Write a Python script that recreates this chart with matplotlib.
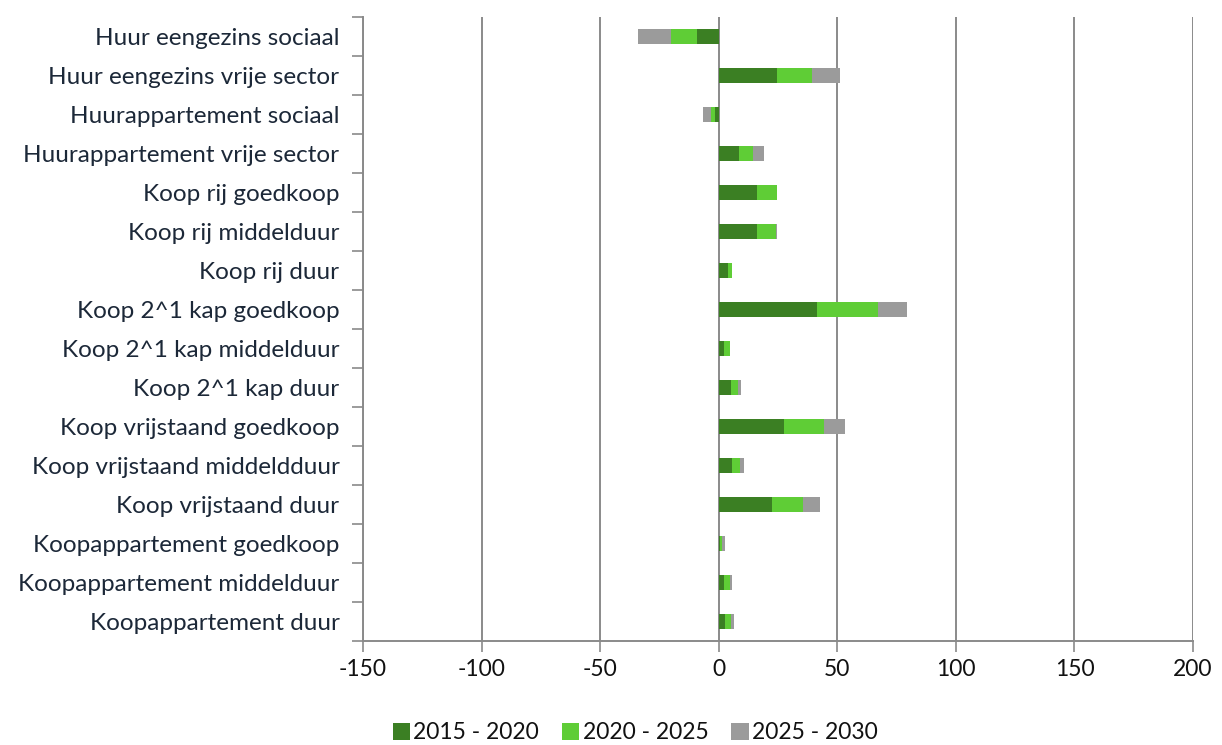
import matplotlib
matplotlib.use("Agg")
import matplotlib.pyplot as plt
from matplotlib.ticker import FixedLocator
import numpy as np

categories = [
    "Huur eengezins sociaal",
    "Huur eengezins vrije sector",
    "Huurappartement sociaal",
    "Huurappartement vrije sector",
    "Koop rij goedkoop",
    "Koop rij middelduur",
    "Koop rij duur",
    "Koop 2^1 kap goedkoop",
    "Koop 2^1 kap middelduur",
    "Koop 2^1 kap duur",
    "Koop vrijstaand goedkoop",
    "Koop vrijstaand middeldduur",
    "Koop vrijstaand duur",
    "Koopappartement goedkoop",
    "Koopappartement middelduur",
    "Koopappartement duur",
]

series_labels = ["2015 - 2020", "2020 - 2025", "2025 - 2030"]
s2015_2020 = [-9, 24.4, -1.4, 8.4, 16, 16, 3.8, 41.6, 2.4, 5.2, 27.7, 5.6, 22.3, 0.7, 2.4, 2.8]
s2020_2025 = [-11, 15, -1.8, 5.9, 8.7, 8.1, 1.8, 25.4, 2.5, 2.8, 16.6, 3.2, 13.3, 0.7, 2.2, 2.5]
s2025_2030 = [-14, 11.9, -3.5, 4.6, 0, 0.6, 0, 12.2, 0, 1.4, 8.8, 1.7, 7.0, 1.1, 1.0, 1.0]

x_ticks = [-150, -100, -50, 0, 50, 100, 150, 200]
colors = ["#3b7f23", "#5fcd36", "#9b9b9b"]

plt.rcParams["font.family"] = ["Lato", "DejaVu Sans"]

fig = plt.figure(figsize=(12.22, 7.45), dpi=100)
ax = fig.add_axes([363 / 1222, 1 - 641 / 745, (1193 - 363) / 1222, (641 - 17) / 745])

n = len(categories)
y = np.arange(n)
series = [s2015_2020, s2020_2025, s2025_2030]
pos_left = np.zeros(n)
neg_left = np.zeros(n)
for vals, col, lab in zip(series, colors, series_labels):
    v = np.array(vals, dtype=float)
    left = np.where(v >= 0, pos_left, neg_left)
    ax.barh(y, v, left=left, height=0.37, color=col, label=lab, zorder=3)
    pos_left = pos_left + np.where(v >= 0, v, 0)
    neg_left = neg_left + np.where(v < 0, v, 0)

ax.set_xlim(-150, 200)
ax.set_ylim(n - 0.5, -0.5)
ax.set_xticks(x_ticks)
ax.set_xticklabels([str(t) for t in x_ticks])
ax.set_yticks(y)
ax.set_yticklabels(categories)
ax.yaxis.set_minor_locator(FixedLocator(np.arange(-0.5, n, 1.0)))

ax.grid(axis="x", color="#8a8a8a", linewidth=1.4, zorder=0)
for side in ["top", "right"]:
    ax.spines[side].set_visible(False)
for side in ["left", "bottom"]:
    ax.spines[side].set_color("#8a8a8a")
    ax.spines[side].set_linewidth(1.4)

ax.tick_params(axis="y", which="major", length=0, pad=17, labelsize=17.5, labelcolor="#1c2838")
ax.tick_params(axis="y", which="minor", length=8, width=1.2, color="#8a8a8a")
ax.tick_params(axis="x", which="major", length=8, width=1.2, color="#8a8a8a",
               pad=5, labelsize=16.5, labelcolor="#111111")

ax.legend(loc="center", bbox_to_anchor=(0.328, -0.147), ncol=3, frameon=False,
          fontsize=16.5, handlelength=0.75, handleheight=0.75, handletextpad=0.15,
          columnspacing=1.0, labelcolor="#111111", borderaxespad=0, borderpad=0)

fig.savefig("out.png", dpi=100, facecolor="white")
